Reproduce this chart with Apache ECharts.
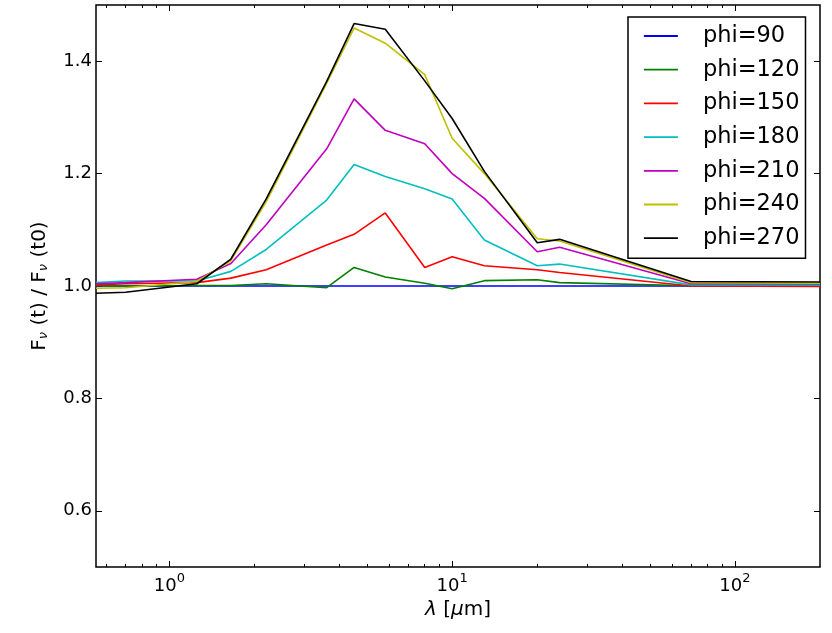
<!DOCTYPE html>
<html><head><meta charset="utf-8">
<script src="https://cdn.jsdelivr.net/npm/echarts@6/dist/echarts.min.js"></script>
<style>html,body{margin:0;padding:0;background:#fff}#c{width:832px;height:633px}</style>
</head><body><div id="c"></div>
<script>
const wavelengths = [0.55, 0.7, 1.25, 1.65, 2.2, 3.6, 4.5, 5.8, 8, 10, 13, 20, 24, 70, 200];
const phi90  = [1.0, 1.0, 1.0, 1.0, 1.0, 1.0, 1.0, 1.0, 1.0, 1.0, 1.0, 1.0, 1.0, 1.0, 1.0];
const phi120 = [1.0005, 1.0, 1.001, 1.001, 1.004, 0.997, 1.033, 1.016, 1.005, 0.995, 1.0095, 1.011, 1.006, 1.0005, 1.0005];
const phi150 = [1.002, 1.004, 1.006, 1.014, 1.029, 1.073, 1.092, 1.130, 1.033, 1.052, 1.036, 1.029, 1.024, 1.0, 0.999];
const phi180 = [1.006, 1.009, 1.009, 1.026, 1.065, 1.153, 1.216, 1.195, 1.173, 1.155, 1.082, 1.036, 1.039, 1.002, 1.002];
const phi210 = [1.004, 1.006, 1.012, 1.040, 1.109, 1.244, 1.333, 1.277, 1.253, 1.200, 1.156, 1.061, 1.069, 1.004, 1.004];
const phi240 = [0.996, 0.997, 1.008, 1.045, 1.150, 1.361, 1.459, 1.432, 1.376, 1.263, 1.200, 1.084, 1.080, 1.006, 1.005];
const phi270 = [0.987, 0.989, 1.004, 1.048, 1.155, 1.364, 1.467, 1.457, 1.365, 1.298, 1.204, 1.077, 1.083, 1.008, 1.007];

const seriesNames = ['phi=90', 'phi=120', 'phi=150', 'phi=180', 'phi=210', 'phi=240', 'phi=270'];
const seriesValues = [phi90, phi120, phi150, phi180, phi210, phi240, phi270];
const seriesColors = ['#0000ff', '#008000', '#ff0000', '#00bfbf', '#bf00bf', '#bfbf00', '#000000'];

const xMajorTicks = [1, 10, 100];
const xMinorTicks = [0.6, 0.7, 0.8, 0.9, 2, 3, 4, 5, 6, 7, 8, 9, 20, 30, 40, 50, 60, 70, 80, 90];
const yTicks = [0.6, 0.8, 1.0, 1.2, 1.4];

const FONT = 'DejaVu Sans';
const gridBox = { left: 96, right: 12, top: 5, bottom: 66 };

const chart = echarts.init(document.getElementById('c'), null, { renderer: 'canvas' });

const xBase = { type: 'log', min: 0.55, max: 200, splitLine: { show: false }, axisLine: { show: false } };

chart.setOption({
  animation: false,
  backgroundColor: '#fff',
  textStyle: { fontFamily: FONT },
  grid: [
    Object.assign({ show: true, borderColor: '#000', borderWidth: 1.5, backgroundColor: 'transparent' }, gridBox),
    Object.assign({ show: false }, gridBox)
  ],
  legend: {
    orient: 'vertical', left: 628, top: 17,
    padding: [7, 6, 8, 15],
    borderColor: '#000', borderWidth: 1.5, backgroundColor: '#fff',
    itemWidth: 34, itemHeight: 14, itemGap: 9.7,
    itemStyle: { opacity: 0 },
    lineStyle: { width: 1.8 },
    data: seriesNames,
    textStyle: { fontSize: 22.5, fontFamily: FONT, color: '#000', lineHeight: 24, padding: [0, 0, 0, 20] },
    z: 10
  },
  xAxis: [
    Object.assign({}, xBase, {
      gridIndex: 0, position: 'bottom',
      name: '{l|λ} [{l|μ}m]', nameLocation: 'middle', nameGap: 31,
      nameTextStyle: { fontSize: 20, color: '#000', rich: { l: { fontSize: 20, fontStyle: 'italic', color: '#000' } } },
      axisTick: { show: true, inside: true, length: 6, customValues: xMajorTicks, lineStyle: { color: '#000', width: 1 } },
      axisLabel: {
        show: true, customValues: xMajorTicks, margin: 5, color: '#000',
        formatter: v => '{b|10}{s|' + Math.round(Math.log10(v)) + '}',
        rich: {
          b: { fontSize: 18, color: '#000', verticalAlign: 'bottom' },
          s: { fontSize: 13, color: '#000', verticalAlign: 'bottom', padding: [0, 0, 10, 0] }
        }
      }
    }),
    Object.assign({}, xBase, {
      gridIndex: 0, position: 'top',
      axisTick: { show: true, inside: true, length: 6, customValues: xMajorTicks, lineStyle: { color: '#000', width: 1 } },
      axisLabel: { show: false }
    }),
    Object.assign({}, xBase, {
      gridIndex: 1, position: 'bottom',
      axisTick: { show: true, inside: true, length: 3, customValues: xMinorTicks, lineStyle: { color: '#000', width: 1 } },
      axisLabel: { show: false }
    }),
    Object.assign({}, xBase, {
      gridIndex: 1, position: 'top',
      axisTick: { show: true, inside: true, length: 3, customValues: xMinorTicks, lineStyle: { color: '#000', width: 1 } },
      axisLabel: { show: false }
    })
  ],
  yAxis: [
    {
      gridIndex: 0, type: 'value', min: 0.5, max: 1.5, position: 'left',
      splitLine: { show: false }, axisLine: { show: false },
      name: 'F{s|ν} (t) / F{s|ν} (t0)', nameLocation: 'middle', nameGap: 46, nameRotate: 90,
      nameTextStyle: {
        fontSize: 20, color: '#000', verticalAlign: 'bottom',
        rich: { s: { fontSize: 13, color: '#000', fontStyle: 'italic', verticalAlign: 'bottom', padding: [8, 0, 0, 0] } }
      },
      axisTick: { show: true, inside: true, length: 6, customValues: yTicks, lineStyle: { color: '#000', width: 1 } },
      axisLabel: { show: true, customValues: yTicks, margin: 4, fontSize: 18, color: '#000', formatter: v => v.toFixed(1) }
    },
    {
      gridIndex: 0, type: 'value', min: 0.5, max: 1.5, position: 'right',
      splitLine: { show: false }, axisLine: { show: false },
      axisTick: { show: true, inside: true, length: 6, customValues: yTicks, lineStyle: { color: '#000', width: 1 } },
      axisLabel: { show: false }
    },
    {
      gridIndex: 1, type: 'value', min: 0.5, max: 1.5, show: false
    }
  ],
  series: seriesNames.map((name, i) => ({
    name: name, type: 'line', xAxisIndex: 0, yAxisIndex: 0,
    data: wavelengths.map((w, j) => [w, seriesValues[i][j]]),
    symbol: 'none', showSymbol: false, clip: true,
    color: seriesColors[i],
    lineStyle: { color: seriesColors[i], width: 1.6 },
    emphasis: { disabled: true }
  }))
});
</script>
</body></html>
